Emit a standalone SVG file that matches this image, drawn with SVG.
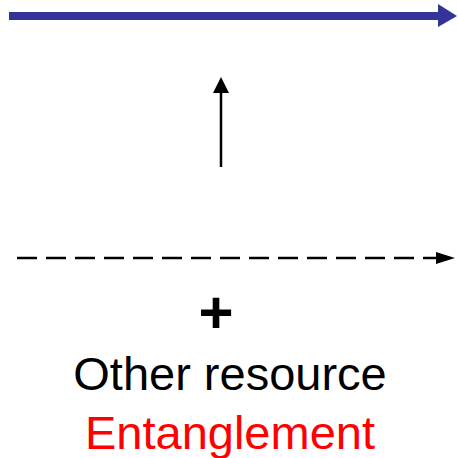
<svg xmlns="http://www.w3.org/2000/svg" width="458" height="458" viewBox="0 0 458 458">
  <style>
    .label { font-family: "Liberation Sans", Arial, sans-serif; font-size: 47px; text-anchor: middle; }
    .black { fill: #000; }
    .red { fill: #ff0000; }
  </style>
  <rect width="458" height="458" fill="#fff"/>
  <g id="connectors">
    <!-- thick blue arrow across the top -->
    <line x1="9" y1="16" x2="440" y2="16" stroke="#333399" stroke-width="8"/>
    <polygon points="438,4 457,16 438,27" fill="#333399"/>
    <!-- vertical arrow -->
    <line x1="221" y1="167" x2="221" y2="90" stroke="#000" stroke-width="2.5"/>
    <polygon points="213,93 221,77 229,93" fill="#000"/>
    <!-- dashed arrow -->
    <line x1="17" y1="258" x2="438" y2="258" stroke="#000" stroke-width="2.5" stroke-dasharray="20 9"/>
    <polygon points="436,252 455,258 436,264" fill="#000"/>
  </g>
  <g id="plus">
    <text x="216" y="333" class="label black" style="font-size:60px;font-weight:bold">+</text>
  </g>
  <g id="other-resource">
    <text x="230" y="390" class="label black">Other resource</text>
  </g>
  <g id="entanglement">
    <text x="230" y="449" class="label red">Entanglement</text>
  </g>
</svg>
